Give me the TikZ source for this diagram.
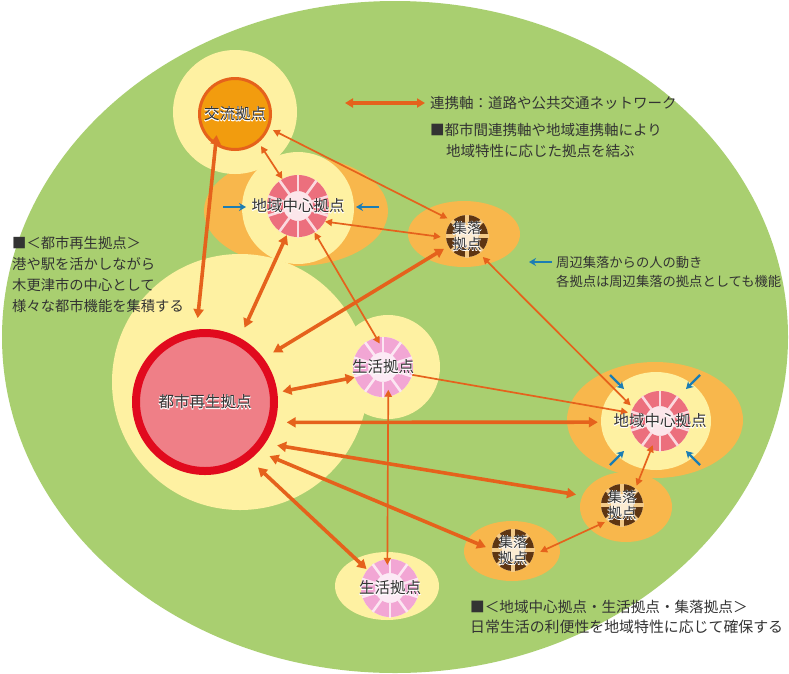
\documentclass[tikz,border=0pt]{standalone}
\usepackage{fontspec}
\setmainfont{Noto Sans CJK JP}
\usetikzlibrary{arrows.meta}
\definecolor{bggreen}{HTML}{A9CF70}
\definecolor{yel}{HTML}{FEF1A2}
\definecolor{orng}{HTML}{F8B74C}
\definecolor{arr}{HTML}{E5621C}
\definecolor{korfill}{HTML}{F29C0E}
\definecolor{toshifill}{HTML}{EF7F87}
\definecolor{toshiedge}{HTML}{E10A1E}
\definecolor{chiseg}{HTML}{EC6F7D}
\definecolor{chigap}{HTML}{FBD9DF}
\definecolor{chiin}{HTML}{FCE6EA}
\definecolor{seiseg}{HTML}{F2A6D4}
\definecolor{seigap}{HTML}{FCE6F2}
\definecolor{seiin}{HTML}{FCEAF5}
\definecolor{shuseg}{HTML}{5E3512}
\definecolor{shugap}{HTML}{F3C987}
\definecolor{shuin}{HTML}{FBEBD2}
\definecolor{blu}{HTML}{1B7DB4}
\definecolor{txt}{HTML}{333333}
% white halo behind a label: one emboldened white copy under the text
\newcommand\glw[1]{\leavevmode\rlap{\addfontfeature{FakeBold=5}\color{white}#1}#1}
% #1 centre node, #2 inner r, #3 outer r, #4 step, #5 offset, #6 seg colour, #7 gap colour, #8 inner fill, #9 gap width
\newcommand\segring[9]{%
  \begin{scope}[shift={(#1)}]
    \fill[#8] (0,0) circle[radius=#3];
    \fill[#6, even odd rule] (0,0) circle[radius=#3] (0,0) circle[radius=#2];
    \foreach \k in {0,#4,...,359}
      \draw[#7, line width=#9] (\k+#5:#2-0.5) -- (\k+#5:#3+0.5);
  \end{scope}}
\tikzset{
  hub/.style={circle, inner sep=0pt, minimum size=#1},
  thk/.style={draw=arr, line width=3.6pt,
    {Triangle[length=9pt,width=10pt]}-{Triangle[length=9pt,width=10pt]}},
  thn/.style={draw=arr, line width=1.7pt,
    {Triangle[length=7pt,width=7pt]}-{Triangle[length=7pt,width=7pt]}},
  bluarr/.style={draw=blu, line width=2.4pt, -{Stealth[length=7pt,width=8pt]}},
  lbl/.style={text=txt, font=\fontsize{15.5}{16}\selectfont, inner sep=0pt},
  lbls/.style={text=txt, font=\fontsize{14.5}{16}\selectfont, inner sep=0pt, align=center},
  note/.style={text=txt, font=\fontsize{14.3}{21}\selectfont, inner sep=0pt, anchor=west},
}
\begin{document}
\begin{tikzpicture}[x=1pt,y=-1pt]
\useasboundingbox (0,0) rectangle (789,673);
\fill[white] (0,0) rectangle (789,673);
% background
\fill[bggreen] (395,337) ellipse[x radius=393, y radius=336];
% orange halos
\fill[orng] (296,211) ellipse[x radius=92, y radius=55];
\fill[orng] (464,234) ellipse[x radius=56, y radius=33];
\fill[orng] (655,420) ellipse[x radius=88, y radius=58];
\fill[orng] (626,507) ellipse[x radius=46, y radius=35];
\fill[orng] (512,551) ellipse[x radius=48, y radius=30];
% yellow halos
\fill[yel] (240,382) circle[radius=128];
\fill[yel] (388,367) circle[radius=52];
\fill[yel] (235,112) circle[radius=62];
\fill[yel] (298,208) circle[radius=56];
\fill[yel] (656,421) ellipse[x radius=55, y radius=49];
\fill[yel] (387,586) ellipse[x radius=52, y radius=34];

% hub nodes (connection circles)
\node[hub=82pt]  (kor)     at (235,114) {};
\node[hub=168pt] (toshi)   at (205,402) {};
\node[hub=60pt]  (sei1)    at (383,367) {};
\node[hub=62pt]  (chiikiU) at (298,206) {};
\node[hub=52pt]  (shuU)    at (467,236) {};
\node[hub=66pt]  (chiikiR) at (660,421) {};
\node[hub=48pt]  (shuR)    at (622,505) {};
\node[hub=54pt]  (shuB)    at (513,550) {};
\node[hub=60pt]  (seiB)    at (390,588) {};

% discs and rings
\filldraw[fill=korfill, draw=arr, line width=3pt] (kor) circle[radius=35.5];
\filldraw[fill=toshifill, draw=toshiedge, line width=8pt] (toshi) circle[radius=69];
\segring{chiikiU}{15}{31}{36}{90}{chiseg}{chigap}{chiin}{2.6pt}
\segring{chiikiR}{15}{30}{36}{90}{chiseg}{chigap}{chiin}{2.6pt}
\segring{sei1}{15}{30}{36}{90}{seiseg}{seigap}{seiin}{2.6pt}
\segring{seiB}{15}{29}{36}{90}{seiseg}{seigap}{seiin}{2.6pt}
\segring{shuU}{12}{21}{45}{0}{shuseg}{shugap}{shuin}{4pt}
\segring{shuR}{12}{21}{45}{0}{shuseg}{shugap}{shuin}{4pt}
\segring{shuB}{12}{21}{45}{0}{shuseg}{shugap}{shuin}{4pt}

% connectors
\draw[thk, shorten >=-15pt] (toshi.95) -- (kor.-119);
\draw[thn] (kor.-51) -- (chiikiU.120);
\draw[thn] (kor.-23) -- (shuU.138);
\draw[thn] (chiikiU.-30) -- (shuU.182);
\draw[thk] (toshi.36) -- (shuU.209);
\draw[thk] (toshi.62) -- (chiikiU.-111);
\draw[thn, shorten >=-7pt] (chiikiU.-58) -- (sei1.103);
\draw[thn] (shuU.-53) -- (chiikiR.152);
\draw[draw=arr, line width=1.7pt, -{Triangle[length=7pt,width=7pt]}] (sei1.-15) -- (chiikiR.165);
\draw[thk, shorten <=-6pt] (toshi.8) -- (sei1.200);
\draw[thk, shorten >=29pt] (toshi.-14) -- (chiikiR.182);
\draw[thk, shorten >=23pt] (toshi.-31) -- (shuR.164);
\draw[thk] (toshi.-40) -- (shuB.174);
\draw[thk] (toshi.-51) -- (seiB.141);
\draw[thn, shorten <=-7pt, shorten >=-7pt] (sei1.-80) -- (seiB.95);
\draw[thn] (shuB.-4) -- (shuR.225);
\draw[thn, shorten <=-8pt] (chiikiR.-108) -- (shuR.53);

% blue arrows (people flow)
\coordinate (b1s) at (223,207); \coordinate (b1e) at (246,207);
\coordinate (b2s) at (379,207); \coordinate (b2e) at (356,207);
\coordinate (b3s) at (610,375); \coordinate (b3e) at (624,389);
\coordinate (b4s) at (700,375); \coordinate (b4e) at (686,389);
\coordinate (b5s) at (610,465); \coordinate (b5e) at (624,451);
\coordinate (b6s) at (700,465); \coordinate (b6e) at (686,451);
\coordinate (b7s) at (552,262); \coordinate (b7e) at (529,262);
\foreach \i in {1,...,7} \draw[bluarr] (b\i s) -- (b\i e);

% legend arrow
\coordinate (la) at (345,103); \coordinate (lb) at (425,103);
\draw[draw=arr, line width=3.2pt,
  {Triangle[length=8pt,width=9pt]}-{Triangle[length=8pt,width=9pt]}] (la) -- (lb);

% node labels
\node[lbl]  (korL)     at (kor)     {\glw{交流拠点}};
\node[lbl]  (toshiL)   at (toshi)   {\glw{都市再生拠点}};
\node[lbl]  (chiikiUL) at (chiikiU) {\glw{地域中心拠点}};
\node[lbl]  (chiikiRL) at (chiikiR) {\glw{地域中心拠点}};
\node[lbl]  (sei1L)    at (sei1)    {\glw{生活拠点}};
\node[lbl]  (seiBL)    at (seiB)    {\glw{生活拠点}};
\node[lbls] (shuUL)    at (shuU)    {\glw{集落}\\\glw{拠点}};
\node[lbls] (shuRL)    at (shuR)    {\glw{集落}\\\glw{拠点}};
\node[lbls] (shuBL)    at (shuB)    {\glw{集落}\\\glw{拠点}};

% notes
\node[note, font=\fontsize{14.5}{21}\selectfont] (n1) at (430,103) {連携軸：道路や公共交通ネットワーク};
\node[note, font=\fontsize{14.5}{21}\selectfont] (n2) at (430,130) {■都市間連携軸や地域連携軸により};
\node[note, font=\fontsize{14.5}{21}\selectfont] (n3) at (446,151) {地域特性に応じた拠点を結ぶ};
\node[note, font=\fontsize{13.3}{21}\selectfont] (n4) at (556,262) {周辺集落からの人の動き};
\node[note, font=\fontsize{13.3}{21}\selectfont] (n5) at (556,281) {各拠点は周辺集落の拠点としても機能};
\node[note] (n6) at (12,243) {■＜都市再生拠点＞};
\node[note] (n7) at (12,264) {港や駅を活かしながら};
\node[note] (n8) at (12,285) {木更津市の中心として};
\node[note] (n9) at (12,306) {様々な都市機能を集積する};
\node[note, font=\fontsize{14.6}{21}\selectfont] (n10) at (470,607) {■＜地域中心拠点・生活拠点・集落拠点＞};
\node[note, font=\fontsize{14.9}{21}\selectfont] (n11) at (470,627) {日常生活の利便性を地域特性に応じて確保する};
\end{tikzpicture}
\end{document}
